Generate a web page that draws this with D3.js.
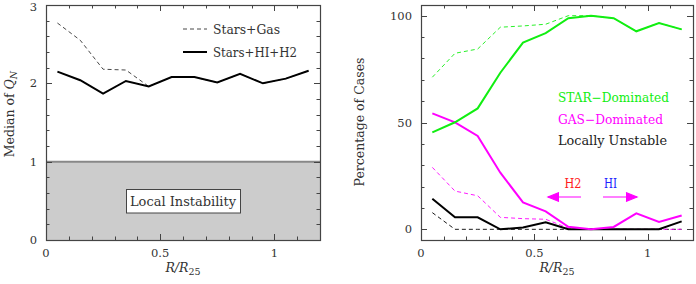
<!DOCTYPE html>
<html><head><meta charset="utf-8">
<script src="https://cdn.jsdelivr.net/npm/d3@7"></script>
<style>body{margin:0;background:#fff}svg{display:block}text{font-family:"DejaVu Serif",serif}</style>
</head><body>
<svg id="c" width="696" height="284"></svg>
<script>
// ---- data ----
const radii = [0.05,0.15,0.25,0.35,0.45,0.55,0.65,0.75,0.85,0.95,1.05,1.15];
const qStarsGas  = [2.77,2.55,2.18,2.17,1.96,2.08,2.08,2.01,2.12,2.00,2.06,2.16];
const qStarsHIH2 = [2.15,2.04,1.87,2.03,1.96,2.08,2.08,2.01,2.12,2.00,2.06,2.16];
const starDomSolid  = [45.4,50.1,56.6,73.3,87.4,91.8,98.8,100,98.8,92.7,96.6,93.6];
const starDomDashed = [71.2,82.4,84.4,94.6,95.2,96.0,100,100,98.8,92.7,96.6,93.6];
const gasDomSolid   = [54.3,50.1,43.7,26.5,12.6,8.4,1.2,0,1.1,7.5,3.4,6.5];
const gasDomDashed  = [29.0,17.9,15.7,5.6,5.0,4.7,0.6,0,0,0,0,0];
const unstSolid     = [14.3,5.6,5.6,0,0.9,3.3,0,0,0,0,0,3.7];
const unstDashed    = [7.8,0,0,0,0,0,0,0,0,0,0,0];
const xTickLabels = ["0","0.5","1"];
const leftYTickLabels = ["0","1","2","3"];
const rightYTickLabels = ["0","50","100"];

const svg = d3.select("#c");
const FRAME = "#444";

function panel(x0,x1,y0,y1,xdom,ydom,majX,minX,majY,minY){
  const x = d3.scaleLinear().domain(xdom).range([x0,x1]);
  const y = d3.scaleLinear().domain(ydom).range([y1,y0]);
  return {x,y,x0,x1,y0,y1,majX,minX,majY,minY};
}
function frame(p, yFmt){
  const g = svg.append("g");
  const {x,y,x0,x1,y0,y1} = p;
  const tk = g.append("g").attr("stroke",FRAME).attr("stroke-width",1);
  const isMaj = (v,arr)=>arr.some(a=>Math.abs(a-v)<1e-6);
  p.minX.forEach(v=>{
    const L = isMaj(v,p.majX)?6:3.5, xx=Math.round(x(v))+0.5;
    tk.append("line").attr("x1",xx).attr("x2",xx).attr("y1",y1).attr("y2",y1-L);
    tk.append("line").attr("x1",xx).attr("x2",xx).attr("y1",y0).attr("y2",y0+L);
  });
  p.minY.forEach(v=>{
    const L = isMaj(v,p.majY)?6:3.5, yy=Math.round(y(v))+0.5;
    tk.append("line").attr("y1",yy).attr("y2",yy).attr("x1",x0).attr("x2",x0+L);
    tk.append("line").attr("y1",yy).attr("y2",yy).attr("x1",x1).attr("x2",x1-L);
  });
  g.append("rect").attr("x",x0+0.5).attr("y",y0+0.5).attr("width",x1-x0).attr("height",y1-y0)
    .attr("fill","none").attr("stroke",FRAME).attr("stroke-width",1.2);
  p.majX.forEach((v,i)=>{
    g.append("text").attr("x",x(v)).attr("y",y1+16.5).attr("text-anchor","middle")
      .attr("font-size",11.5).attr("fill","#333").text(xTickLabels[i]);
  });
  p.majY.forEach((v,i)=>{
    g.append("text").attr("x",x0-9).attr("y",Math.max(y(v)+4,10.5)).attr("text-anchor","end")
      .attr("font-size",11.5).attr("fill","#333").text(yFmt[i]);
  });
  const t = g.append("text").attr("x",(x0+x1)/2).attr("y",272).attr("text-anchor","middle")
    .attr("font-size",12.5).attr("fill","#333");
  t.append("tspan").attr("font-style","italic").text("R/R");
  t.append("tspan").attr("font-size",9.5).attr("dy",3).text("25");
}
function label(x,y,txt,len,color,size){
  return svg.append("text").attr("x",x).attr("y",y).attr("font-size",size||12.5)
    .attr("fill",color).attr("textLength",len).attr("lengthAdjust","spacingAndGlyphs").text(txt);
}

const range = (a,b,s)=>d3.range(Math.round((b-a)/s)+1).map(i=>+(a+i*s).toFixed(4));

// ---- left panel ----
const L = panel(46,320,5,240,[0,1.2],[0,3],[0,0.5,1],range(0.1,1.1,0.1),[0,1,2,3],range(0.2,2.8,0.2));
svg.append("rect").attr("x",L.x0).attr("y",L.y(1)).attr("width",L.x1-L.x0).attr("height",L.y(0)-L.y(1)).attr("fill","#cccccc");
svg.append("line").attr("x1",L.x0).attr("x2",L.x1).attr("y1",L.y(1)).attr("y2",L.y(1)).attr("stroke","#888").attr("stroke-width",2);
frame(L, leftYTickLabels);
const lineL = d3.line().x((d,i)=>L.x(radii[i])).y(d=>L.y(d));
svg.append("path").attr("d",lineL(qStarsGas)).attr("fill","none").attr("stroke","#333").attr("stroke-width",0.9).attr("stroke-dasharray","4,3");
svg.append("path").attr("d",lineL(qStarsHIH2)).attr("fill","none").attr("stroke","#000").attr("stroke-width",2);
// legend
svg.append("line").attr("x1",183).attr("x2",207).attr("y1",29).attr("y2",29).attr("stroke","#333").attr("stroke-width",0.9).attr("stroke-dasharray","4,3");
label(213,33.5,"Stars+Gas",67,"#333");
svg.append("line").attr("x1",183).attr("x2",207).attr("y1",52).attr("y2",52).attr("stroke","#000").attr("stroke-width",2);
label(213,56.5,"Stars+HI+H2",84,"#333");
// box
svg.append("rect").attr("x",126.5).attr("y",189.5).attr("width",114).attr("height",23.5).attr("fill","#fff").attr("stroke","#444").attr("stroke-width",1);
label(130,205.5,"Local Instability",106,"#333");
// y label
const yl = svg.append("text").attr("transform","translate(14,114) rotate(-90)").attr("text-anchor","middle").attr("font-size",12.5).attr("fill","#333");
yl.append("tspan").text("Median of ");
yl.append("tspan").attr("font-style","italic").text("Q");
yl.append("tspan").attr("font-style","italic").attr("font-size",9.5).attr("dy",3).text("N");

// ---- right panel ----
const R = panel(421,693,5,240,[0,1.2],[-5,105],[0,0.5,1],range(0.1,1.1,0.1),[0,50,100],range(0,100,10));
frame(R, rightYTickLabels);
const lineR = d3.line().x((d,i)=>R.x(radii[i])).y(d=>R.y(d));
const GREEN="#11ee11", MAG="#ff00ff";
svg.append("path").attr("d",lineR(unstDashed)).attr("fill","none").attr("stroke","#000").attr("stroke-width",0.9).attr("stroke-dasharray","4,3");
svg.append("path").attr("d",lineR(gasDomDashed)).attr("fill","none").attr("stroke",MAG).attr("stroke-width",0.9).attr("stroke-dasharray","4,3");
svg.append("path").attr("d",lineR(starDomDashed)).attr("fill","none").attr("stroke",GREEN).attr("stroke-width",0.9).attr("stroke-dasharray","4,3");
svg.append("path").attr("d",lineR(unstSolid)).attr("fill","none").attr("stroke","#000").attr("stroke-width",2);
svg.append("path").attr("d",lineR(gasDomSolid)).attr("fill","none").attr("stroke",MAG).attr("stroke-width",2);
svg.append("path").attr("d",lineR(starDomSolid)).attr("fill","none").attr("stroke",GREEN).attr("stroke-width",2);
// legend texts
label(558,102,"STAR\u2212Dominated",111,GREEN);
label(558,123.5,"GAS\u2212Dominated",105,MAG);
label(558,145,"Locally Unstable",109,"#222");
// arrows
label(564.5,188,"H2",17,"#ff2020");
label(604,188,"HI",13,"#2020ff");
const ar = svg.append("g").attr("stroke",MAG).attr("stroke-width",1.2).attr("fill","none");
ar.append("line").attr("x1",548).attr("x2",581).attr("y1",197).attr("y2",197);
ar.append("path").attr("d","M559,192.5 L548,197 L559,201.5").attr("fill",MAG);
ar.append("line").attr("x1",603).attr("x2",637).attr("y1",197).attr("y2",197);
ar.append("path").attr("d","M626,192.5 L637,197 L626,201.5").attr("fill",MAG);
// y label
svg.append("text").attr("transform","translate(364,122) rotate(-90)").attr("text-anchor","middle").attr("font-size",12.5).attr("fill","#333").text("Percentage of Cases");
</script>
</body></html>
